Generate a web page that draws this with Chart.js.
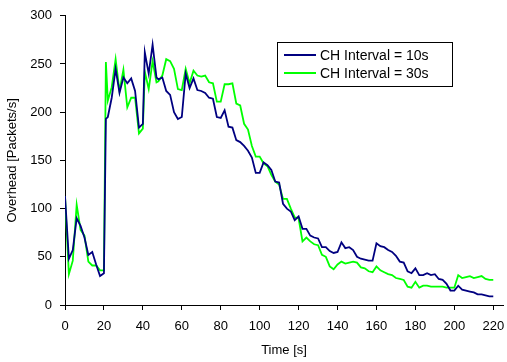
<!DOCTYPE html>
<html>
<head>
<meta charset="utf-8">
<script src="https://cdn.jsdelivr.net/npm/chart.js@4.4.1/dist/chart.umd.min.js"></script>
<style>
  html, body { margin: 0; padding: 0; background: #fff; }
  #wrap { width: 507px; height: 362px; }
</style>
</head>
<body>
<div id="wrap"><canvas id="overheadChart" width="507" height="362"></canvas></div>
<script>
// ── Data ─────────────────────────────────

const timeSec = [
  0, 2, 4, 6, 8, 10, 12, 14, 16, 18, 20, 21, 22, 24, 26, 28, 30, 32, 34, 36, 38,
  40, 41, 43, 45, 47, 48, 50, 52, 54, 56, 58, 60, 62, 64, 66, 68, 70, 72, 74, 76, 78,
  80, 82, 84, 86, 88, 90, 92, 94, 96, 98, 100, 102, 104, 106, 108, 110, 112, 114,
  116, 118, 120, 122, 124, 126, 128, 130, 132, 134, 136, 138, 140, 142, 144, 146,
  148, 150, 152, 154, 156, 158, 160, 162, 164, 166, 168, 170, 172, 174, 176, 178,
  180, 182, 184, 186, 188, 190, 192, 194, 196, 198, 200, 202, 204, 206, 208, 210,
  212, 214, 216, 218, 220
];

const interval10 = [
  113, 48, 57, 90, 82, 70, 52, 55, 42, 30, 33, 193, 195, 215, 245, 220, 236, 230, 235, 222, 184,
  188, 262, 240, 270, 236, 234, 236, 222, 218, 200, 193, 195, 240, 225, 235, 223, 222, 220, 215, 214, 195,
  194, 202, 185, 184, 171, 169, 165, 160, 153, 137, 137, 148, 145, 140, 128, 127, 105, 100,
  97, 88, 92, 79, 79, 72, 70, 69, 60, 60, 56, 54, 55, 65, 59, 60,
  57, 50, 48, 47, 46, 46, 64, 61, 60, 57, 55, 51, 45, 44, 35, 33,
  38, 31, 31, 33, 31, 32, 27, 26, 22, 15, 15, 20, 16, 15, 14, 13,
  11, 11, 10, 9, 9
];

const interval30 = [
  113, 32, 46, 104, 78, 72, 45, 41, 41, 36, 36, 252, 212, 226, 255, 222, 244, 205, 215, 215, 178,
  183, 242, 224, 253, 231, 232, 238, 255, 253, 245, 224, 223, 245, 230, 243, 238, 237, 238, 231, 230, 211,
  211, 229, 229, 230, 209, 207, 188, 182, 165, 154, 154, 147, 144, 135, 128, 125, 110, 110,
  100, 91, 90, 66, 70, 66, 63, 62, 52, 50, 40, 37, 42, 45, 43, 44,
  45, 44, 39, 38, 35, 34, 40, 36, 34, 32, 31, 28, 27, 26, 19, 18,
  24, 18, 20, 20, 19, 19, 19, 19, 18, 18, 18, 31, 28, 29, 30, 28,
  29, 30, 27, 26, 26
];

const seriesLabels = ['CH Interval = 10s', 'CH Interval = 30s'];
const seriesColors = ['#000080', '#00ff00'];

// ── Legend box drawn inside the plot ─────

const boxedLegend = {
  id: 'boxedLegend',
  afterDraw(chart) {
    const c = chart.ctx;
    const x = 277.5, y = 42.5, w = 175, h = 44;
    c.save();
    c.fillStyle = '#fff';
    c.fillRect(x, y, w, h);
    c.strokeStyle = '#000';
    c.lineWidth = 1;
    c.strokeRect(x, y, w, h);
    c.font = '14px "Liberation Sans", Arial, sans-serif';
    c.textBaseline = 'middle';
    chart.data.datasets.forEach((ds, i) => {
      const rowY = 55 + i * 18;
      c.strokeStyle = ds.borderColor;
      c.lineWidth = 2;
      c.beginPath();
      c.moveTo(284, rowY);
      c.lineTo(316, rowY);
      c.stroke();
      c.fillStyle = '#000';
      c.fillText(ds.label, 320, rowY + 1);
    });
    c.restore();
  }
};

// ── Chart Setup ──────────────────────────

const font = { family: '"Liberation Sans", Arial, sans-serif', size: 13 };

const ctx = document.getElementById('overheadChart').getContext('2d');
new Chart(ctx, {
  type: 'line',
  data: {
    datasets: [interval10, interval30].map((vals, i) => ({
      label: seriesLabels[i],
      data: timeSec.map((t, k) => ({ x: t, y: vals[k] })),
      borderColor: seriesColors[i],
      borderWidth: 1.8,
      pointRadius: 0,
      tension: 0,
      fill: false
    }))
  },
  options: {
    responsive: false,
    animation: false,
    layout: { padding: { left: 0, top: 15, right: 4, bottom: 0 } },
    plugins: {
      legend: { display: false },
      tooltip: { enabled: false }
    },
    scales: {
      x: {
        type: 'linear',
        min: 0,
        max: 225,
        // keep the axis running right up to the edge, labels may overhang
        afterFit: s => { s.height = 57; s.paddingLeft = 0; s.paddingRight = 0; },
        border: { color: '#000', width: 1 },
        grid: { drawOnChartArea: false, drawTicks: true, tickLength: 5, color: '#000' },
        ticks: { stepSize: 20, includeBounds: false, color: '#000', font, padding: 9, maxRotation: 0 },
        title: { display: true, text: 'Time [s]', color: '#000', font, padding: { top: 0, bottom: 4 } }
      },
      y: {
        min: 0,
        max: 300,
        afterFit: s => { s.width = 65; },
        border: { color: '#000', width: 1 },
        grid: { drawOnChartArea: false, drawTicks: true, tickLength: 5, color: '#000' },
        ticks: { stepSize: 50, color: '#000', font, padding: 8 },
        title: { display: true, text: 'Overhead [Packets/s]', color: '#000', font, padding: { top: 5, bottom: 0 } }
      }
    }
  },
  plugins: [boxedLegend]
});
</script>
</body>
</html>
